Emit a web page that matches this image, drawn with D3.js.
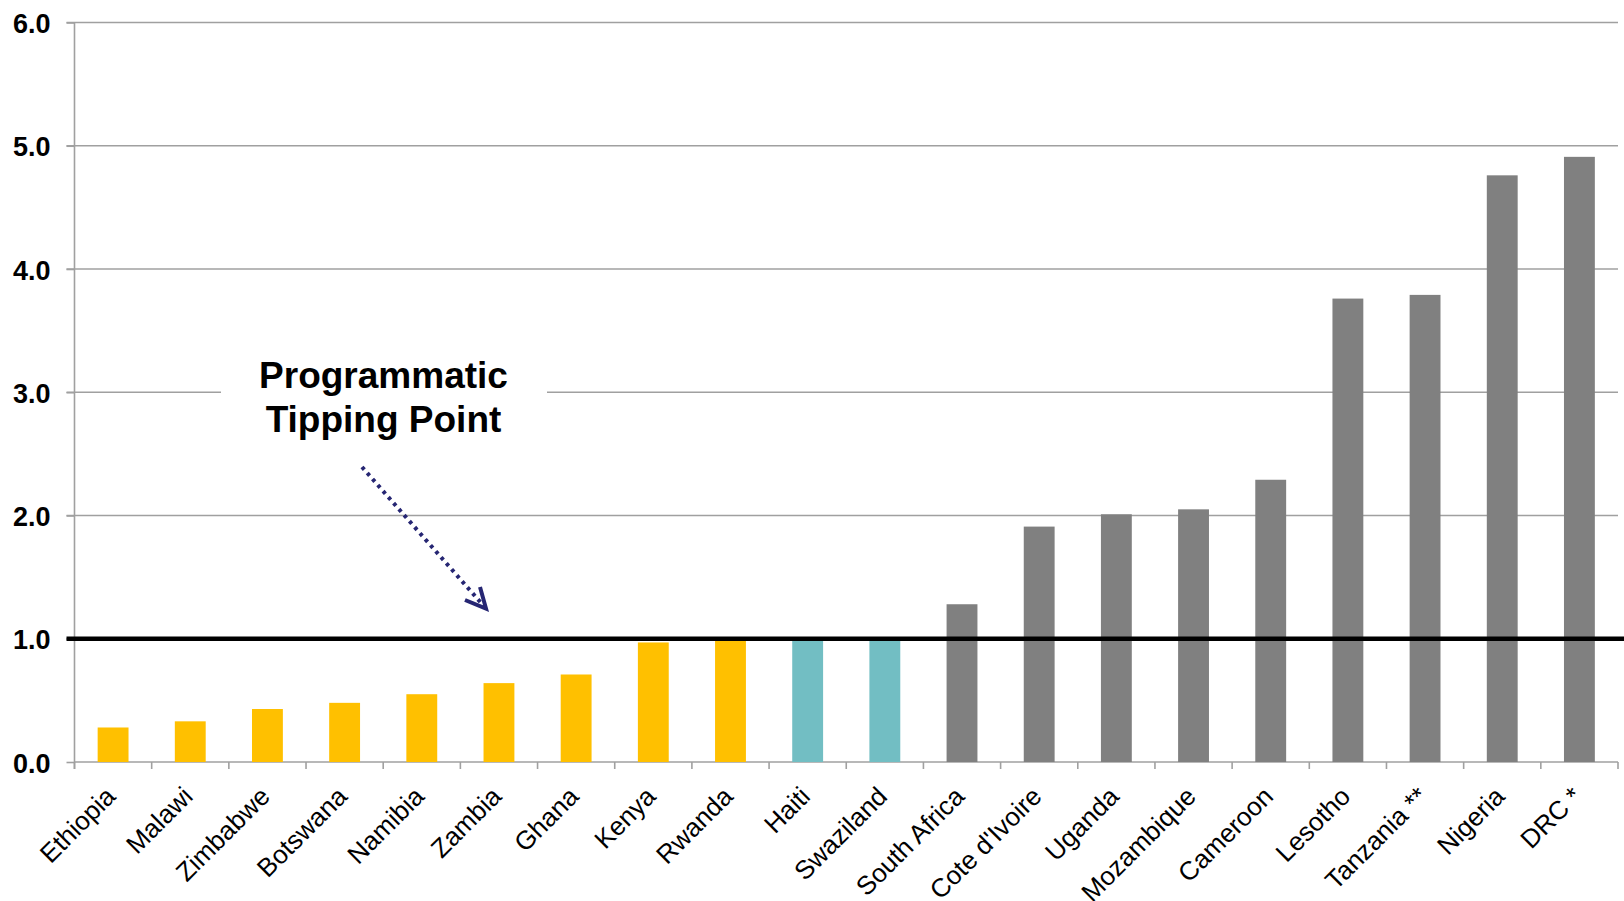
<!DOCTYPE html>
<html>
<head>
<meta charset="utf-8">
<script src="https://cdn.jsdelivr.net/npm/d3@7/dist/d3.min.js"></script>
<style>
  html, body { margin: 0; padding: 0; background: #fff; }
  svg { display: block; }
</style>
</head>
<body>
<svg id="chart" width="1624" height="901"></svg>
<script>
// Countries, ordered by ratio
const categories = ["Ethiopia", "Malawi", "Zimbabwe", "Botswana", "Namibia", "Zambia", "Ghana",
  "Kenya", "Rwanda", "Haiti", "Swaziland", "South Africa", "Cote d'Ivoire", "Uganda",
  "Mozambique", "Cameroon", "Lesotho", "Tanzania **", "Nigeria", "DRC *"];
const values = [0.28, 0.33, 0.43, 0.48, 0.55, 0.64, 0.71, 0.97, 0.99, 1.00, 1.00,
  1.28, 1.91, 2.01, 2.05, 2.29, 3.76, 3.79, 4.76, 4.91];
// Group of each country relative to the tipping point
const groups = ["below", "below", "below", "below", "below", "below", "below", "below", "below",
  "at", "at", "above", "above", "above", "above", "above", "above", "above", "above", "above"];
const yTicks = [0, 1, 2, 3, 4, 5, 6];
const tippingPoint = 1.0;
const annotationLines = ["Programmatic", "Tipping Point"];

const groupColor = { below: "#FFC000", at: "#72BEC3", above: "#808080" };

const svg = d3.select("#chart");
const plotLeft = 74.5, plotRight = 1618, plotTop = 22.5, plotBottom = 762;

const x = d3.scaleBand().domain(categories).range([plotLeft, plotRight]).padding(0);
const y = d3.scaleLinear().domain([0, 6]).range([plotBottom, plotTop]);
const bw = x.bandwidth();

// Horizontal gridlines
svg.append("g")
  .selectAll("line")
  .data(yTicks.filter(d => d > 0))
  .join("line")
  .attr("x1", plotLeft - 8).attr("x2", plotRight)
  .attr("y1", d => y(d)).attr("y2", d => y(d))
  .attr("stroke", "#a0a0a0").attr("stroke-width", 1.6);

// Y axis with bold tick labels
const yAxis = svg.append("g")
  .attr("transform", `translate(${plotLeft},0)`)
  .call(d3.axisLeft(y).tickValues(yTicks).tickSize(8).tickPadding(16).tickFormat(d3.format(".1f")));
yAxis.select(".domain").remove();
yAxis.selectAll(".tick line").attr("stroke", "#a0a0a0").attr("stroke-width", 1.6);
yAxis.selectAll(".tick text")
  .attr("font-family", "Liberation Sans, Arial, sans-serif")
  .attr("font-size", 27).attr("font-weight", "bold").attr("fill", "#000")
  .attr("dy", "0.37em");

// Axis lines
svg.append("line")
  .attr("x1", plotLeft).attr("x2", plotLeft).attr("y1", plotTop).attr("y2", plotBottom + 7)
  .attr("stroke", "#a0a0a0").attr("stroke-width", 1.6);
svg.append("line")
  .attr("x1", plotLeft).attr("x2", plotRight).attr("y1", plotBottom).attr("y2", plotBottom)
  .attr("stroke", "#a0a0a0").attr("stroke-width", 1.6);

// Category boundary ticks
const boundaries = categories.map(c => x(c)).concat([plotRight]);
svg.append("g")
  .selectAll("line")
  .data(boundaries)
  .join("line")
  .attr("x1", d => d).attr("x2", d => d)
  .attr("y1", plotBottom).attr("y2", plotBottom + 7)
  .attr("stroke", "#a0a0a0").attr("stroke-width", 1.6);

// Bars
svg.append("g")
  .selectAll("rect")
  .data(categories.map((c, i) => ({ c, v: values[i], g: groups[i] })))
  .join("rect")
  .attr("x", d => x(d.c) + bw * 0.3)
  .attr("width", bw * 0.4)
  .attr("y", d => y(d.v))
  .attr("height", d => y(0) - y(d.v))
  .attr("fill", d => groupColor[d.g]);

// Tipping point line
svg.append("line")
  .attr("x1", plotLeft - 8).attr("x2", 1624)
  .attr("y1", y(tippingPoint)).attr("y2", y(tippingPoint))
  .attr("stroke", "#000").attr("stroke-width", 4.5);

// Category labels, rotated
svg.append("g")
  .selectAll("text")
  .data(categories)
  .join("text")
  .attr("transform", d => `translate(${x(d) + bw / 2 + 4},${plotBottom + 36}) rotate(-45)`)
  .attr("text-anchor", "end")
  .attr("font-family", "Liberation Sans, Arial, sans-serif")
  .attr("font-size", 26)
  .attr("fill", "#000")
  .text(d => d);

// Annotation box and text
svg.append("rect")
  .attr("x", 221).attr("y", 345).attr("width", 326).attr("height", 100)
  .attr("fill", "#fff");
svg.append("g")
  .selectAll("text")
  .data(annotationLines)
  .join("text")
  .attr("x", 383.5)
  .attr("y", (d, i) => 388 + i * 43.5)
  .attr("text-anchor", "middle")
  .attr("font-family", "Liberation Sans, Arial, sans-serif")
  .attr("font-size", 37).attr("font-weight", "bold").attr("fill", "#000")
  .text(d => d);

// Dotted arrow pointing at the tipping point line
const arrowColor = "#262673";
svg.append("line")
  .attr("x1", 362).attr("y1", 467).attr("x2", 482).attr("y2", 604)
  .attr("stroke", arrowColor).attr("stroke-width", 4)
  .attr("stroke-dasharray", "3.5,4.5");
svg.append("path")
  .attr("d", "M465,600 L486,608.5 L480,587")
  .attr("fill", "none").attr("stroke", arrowColor).attr("stroke-width", 4)
  .attr("stroke-linejoin", "miter");
</script>
</body>
</html>
